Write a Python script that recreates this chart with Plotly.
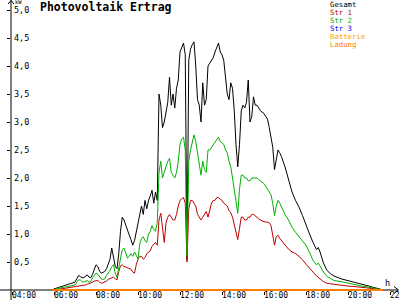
import plotly.graph_objects as go

# ---------------- data ----------------
times = ["05:55", "06:00", "06:10", "06:20", "06:30", "06:40", "06:50", "07:00", "07:05", "07:10",
         "07:15", "07:20", "07:25", "07:30", "07:35", "07:40", "07:45", "07:50", "07:55", "08:00",
         "08:05", "08:10", "08:15", "08:20", "08:25", "08:30", "08:35", "08:40", "08:45", "08:50",
         "08:55", "09:00", "09:05", "09:10", "09:15", "09:20", "09:25", "09:30", "09:35", "09:40",
         "09:45", "09:50", "09:55", "10:00", "10:05", "10:10", "10:15", "10:20", "10:25", "10:30",
         "10:35", "10:40", "10:45", "10:50", "10:55", "11:00", "11:05", "11:10", "11:15", "11:20",
         "11:25", "11:30", "11:35", "11:40", "11:45", "11:50", "11:55", "12:00", "12:05", "12:10",
         "12:15", "12:20", "12:25", "12:30", "12:35", "12:40", "12:45", "12:50", "12:55", "13:00",
         "13:05", "13:10", "13:15", "13:20", "13:25", "13:30", "13:35", "13:40", "13:45", "13:50",
         "13:55", "14:00", "14:05", "14:10", "14:15", "14:20", "14:25", "14:30", "14:35", "14:40",
         "14:45", "14:50", "14:55", "15:00", "15:05", "15:10", "15:15", "15:20", "15:25", "15:30",
         "15:35", "15:40", "15:45", "15:50", "16:00", "16:10", "16:15", "16:20", "16:25", "16:30",
         "16:35", "16:40", "16:45", "16:50", "17:00", "17:10", "17:20", "17:30", "17:40", "17:50",
         "18:00", "18:10", "18:20", "18:30", "18:35", "18:40", "18:50", "19:00", "19:10", "19:20",
         "19:40", "20:00", "20:20", "20:40", "21:00", "21:10", "21:20", "21:30", "21:40"]

gesamt = [0.0, 0.02, 0.04, 0.06, 0.08, 0.09, 0.11, 0.14, 0.20, 0.26,
          0.24, 0.22, 0.22, 0.25, 0.27, 0.23, 0.22, 0.28, 0.38, 0.45,
          0.42, 0.34, 0.30, 0.31, 0.33, 0.38, 0.45, 0.55, 0.75, 0.60,
          0.42, 0.38, 0.65, 1.05, 1.30, 1.25, 1.15, 1.05, 0.98, 0.90,
          0.80, 0.88, 1.05, 1.20, 1.40, 1.50, 1.35, 1.60, 1.45, 1.60,
          1.68, 1.78, 1.55, 1.75, 1.60, 3.50, 3.30, 2.90, 3.00, 3.20,
          3.35, 3.80, 3.30, 3.50, 3.25, 3.60, 3.75, 4.25, 4.35, 4.41,
          4.20, 0.55, 4.10, 4.30, 4.38, 4.43, 4.00, 3.40, 3.30, 3.00,
          3.70, 3.30, 3.40, 4.00, 4.05, 4.10, 4.15, 4.25, 4.35, 4.41,
          4.25, 4.20, 4.10, 3.80, 3.50, 3.40, 3.70, 3.60, 3.20, 2.60,
          2.20, 2.60, 3.20, 3.30, 3.25, 3.35, 3.75, 3.00, 3.10, 3.45,
          3.30, 3.30, 3.25, 3.20, 3.15, 3.05, 2.90, 2.75, 2.55, 2.15,
          2.35, 2.50, 2.45, 2.38, 2.20, 1.95, 1.75, 1.60, 1.48, 1.33,
          1.15, 1.00, 0.85, 0.72, 0.76, 0.68, 0.48, 0.35, 0.29, 0.25,
          0.20, 0.17, 0.14, 0.10, 0.07, 0.05, 0.04, 0.02, 0.0]

str1 = [0.0, 0.01, 0.01, 0.02, 0.03, 0.03, 0.04, 0.05, 0.06, 0.07,
        0.07, 0.07, 0.08, 0.09, 0.10, 0.11, 0.12, 0.14, 0.16, 0.17,
        0.17, 0.14, 0.12, 0.13, 0.14, 0.16, 0.19, 0.20, 0.22, 0.23,
        0.20, 0.18, 0.33, 0.43, 0.45, 0.42, 0.41, 0.40, 0.39, 0.37,
        0.32, 0.30, 0.45, 0.55, 0.60, 0.60, 0.55, 0.58, 0.65, 0.68,
        0.70, 0.78, 0.82, 0.85, 0.80, 1.25, 1.37, 1.15, 0.85, 1.20,
        1.30, 1.35, 1.30, 1.25, 1.25, 1.35, 1.50, 1.60, 1.63, 1.65,
        1.55, 0.50, 1.45, 1.60, 1.60, 1.55, 1.50, 1.35, 1.30, 1.25,
        1.30, 1.35, 1.40, 1.30, 1.45, 1.55, 1.60, 1.60, 1.65, 1.65,
        1.62, 1.60, 1.55, 1.52, 1.50, 1.42, 1.38, 1.30, 1.15, 1.00,
        0.90, 1.10, 1.30, 1.30, 1.25, 1.25, 1.30, 1.30, 1.35, 1.35,
        1.32, 1.30, 1.27, 1.25, 1.22, 1.21, 1.20, 1.15, 1.00, 0.80,
        0.95, 0.98, 0.92, 0.88, 0.80, 0.73, 0.68, 0.65, 0.60, 0.54,
        0.46, 0.38, 0.32, 0.25, 0.23, 0.20, 0.15, 0.12, 0.11, 0.10,
        0.09, 0.07, 0.06, 0.05, 0.04, 0.03, 0.02, 0.01, 0.0]

str2 = [0.0, 0.01, 0.03, 0.04, 0.05, 0.06, 0.07, 0.09, 0.14, 0.18,
        0.18, 0.15, 0.14, 0.16, 0.17, 0.14, 0.15, 0.22, 0.27, 0.30,
        0.28, 0.24, 0.20, 0.19, 0.20, 0.26, 0.30, 0.35, 0.42, 0.45,
        0.30, 0.22, 0.40, 0.60, 0.72, 0.75, 0.65, 0.57, 0.60, 0.65,
        0.60, 0.68, 0.62, 0.55, 0.82, 0.92, 0.95, 0.88, 0.85, 1.00,
        1.05, 1.15, 1.08, 1.05, 1.20, 2.10, 2.30, 2.00, 2.10, 2.20,
        2.30, 2.35, 2.10, 2.05, 2.00, 2.10, 2.30, 2.60, 2.70, 2.73,
        2.50, 0.60, 2.30, 2.50, 2.65, 2.77, 2.65, 2.45, 2.30, 2.05,
        2.30, 2.15, 2.10, 2.50, 2.50, 2.55, 2.60, 2.65, 2.70, 2.73,
        2.65, 2.62, 2.60, 2.50, 2.45, 2.30, 2.20, 2.00, 1.80, 1.60,
        1.37, 1.80, 2.05, 2.05, 2.00, 2.00, 1.95, 1.95, 2.00, 2.00,
        2.00, 2.00, 1.97, 1.95, 1.90, 1.80, 1.75, 1.70, 1.55, 1.33,
        1.50, 1.60, 1.55, 1.48, 1.35, 1.25, 1.12, 1.03, 0.95, 0.87,
        0.80, 0.67, 0.53, 0.45, 0.48, 0.43, 0.32, 0.24, 0.20, 0.17,
        0.15, 0.12, 0.10, 0.07, 0.05, 0.04, 0.03, 0.02, 0.0]

str3 = [0.0 for _ in times]
batterie = [0.0 for _ in times]
ladung = [0.0 for _ in times]

series_names = ["Gesamt", "Str 1", "Str 2", "Str 3", "Batterie", "Ladung"]
series_colors = ["#000000", "#c00000", "#00b000", "#0000ff", "#ffa000", "#ff8000"]

x_tick_vals = [4, 6, 8, 10, 12, 14, 16, 18, 20, 22]
x_tick_text = ["04:00", "06:00", "08:00", "10:00", "12:00", "14:00", "16:00", "18:00", "20:00", "22:00"]
y_tick_vals = [0.5, 1.0, 1.5, 2.0, 2.5, 3.0, 3.5, 4.0, 4.5, 5.0]

title_text = "Photovoltaik Ertrag"
y_unit = "kW"
x_unit = "h"

# ---------------- figure ----------------
def to_hours(t):
    h, m = t.split(":")
    return int(h) + int(m) / 60.0

hours = [to_hours(t) for t in times]

W, H = 400, 300
ML, MR, MT, MB = 11, 2, 0, 9
PW, PH = W - ML - MR, H - MT - MB

def px(xp):
    return (xp - ML) / PW

def py(yp):
    return (H - MB - yp) / PH

MONO = "DejaVu Sans Mono"

fig = go.Figure()
values = [gesamt, str1, str2, str3, batterie, ladung]
widths = [1, 1, 1, 1, 1, 2]
for name, vals, col, w in zip(series_names, values, series_colors, widths):
    fig.add_trace(go.Scatter(x=hours, y=vals, mode="lines", name=name,
                             line=dict(color=col, width=w), hoverinfo="skip"))

x_range = [4 - 1 / 21, 4 + (W - MR - 12) / 21]
y_range = [-1 / 56, 290 / 56]

fig.update_layout(
    width=W, height=H,
    margin=dict(l=ML, r=MR, t=MT, b=MB, pad=0, autoexpand=False),
    paper_bgcolor="white", plot_bgcolor="white",
    showlegend=False,
    separators=",.",
    font=dict(family=MONO, size=8.5, color="black"),
    xaxis=dict(range=x_range, tickvals=x_tick_vals, ticktext=x_tick_text,
               ticks="outside", ticklen=3, tickcolor="black", tickwidth=1,
               showgrid=False, zeroline=False, showline=False, automargin=False,
               tickfont=dict(family=MONO, size=8, color="black"),
               ticklabelshift=12, ticklabelstandoff=-7, ticklabeloverflow="allow",
               layer="below traces"),
    xaxis2=dict(range=x_range, overlaying="x", anchor="y", tickvals=x_tick_vals,
                ticks="inside", ticklen=3, tickcolor="black", showticklabels=False,
                showgrid=False, zeroline=False, showline=False, automargin=False),
    yaxis=dict(range=y_range, tickvals=y_tick_vals, tickformat=".1f",
               ticks="outside", ticklen=3, tickcolor="black",
               ticklabelposition="inside", ticklabeloverflow="allow", automargin=False,
               showgrid=False, zeroline=False, showline=False,
               tickfont=dict(family=MONO, size=8.5, color="black"), layer="below traces"),
    yaxis2=dict(range=y_range, overlaying="y", anchor="x", side="left", tickvals=y_tick_vals,
                ticks="inside", ticklen=2, tickcolor="black", showticklabels=False,
                showgrid=False, zeroline=False, showline=False, automargin=False),
)

shapes = [
    # y axis line (extends below x axis)
    dict(type="line", xref="paper", yref="paper", x0=0, x1=0, y0=py(300), y1=py(0),
         line=dict(color="black", width=1), layer="below"),
    # x axis line
    dict(type="line", xref="paper", yref="y", x0=px(0), x1=px(398), y0=0, y1=0,
         line=dict(color="black", width=1), layer="below"),
    # y arrow head
    dict(type="path", xref="paper", yref="paper",
         path=f"M {px(8)} {py(4)} L {px(11)} {py(0.5)} L {px(14)} {py(4)}",
         line=dict(color="black", width=1)),
    # x arrow head
    dict(type="path", xref="paper", yref="paper",
         path=f"M {px(394)} {py(286.5)} L {px(398.5)} {py(290)} L {px(394)} {py(293.5)}",
         line=dict(color="black", width=1)),
]
fig.update_layout(shapes=shapes)

ann = [
    dict(text=f"<b>{title_text}</b>", x=px(39), y=py(7), xanchor="left", yanchor="middle",
         font=dict(family=MONO, size=11.5, color="black")),
    dict(text=y_unit, x=px(14), y=py(2.5), xanchor="left", yanchor="middle",
         font=dict(family=MONO, size=5.5, color="black")),
    dict(text=x_unit, x=px(387), y=py(283), xanchor="center", yanchor="middle",
         font=dict(family=MONO, size=8.5, color="black")),
]
for i, (name, col) in enumerate(zip(series_names, series_colors)):
    ann.append(dict(text=name, x=px(329), y=py(4.5 + 8 * i), xanchor="left", yanchor="middle",
                    font=dict(family=MONO, size=7.3, color=col)))
for a in ann:
    a.update(xref="paper", yref="paper", showarrow=False, borderpad=0)
fig.update_layout(annotations=ann)

fig.write_html("out.html")
